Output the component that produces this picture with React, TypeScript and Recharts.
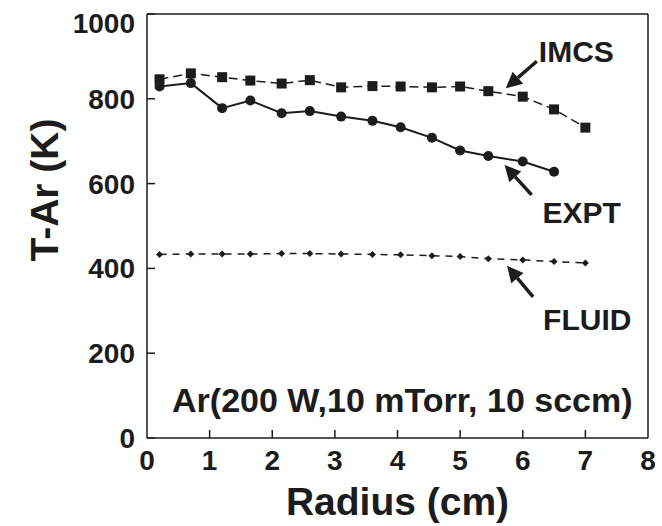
import { LineChart, Line, XAxis, YAxis, ReferenceLine, ReferenceDot } from "recharts";

const radius = [0.2, 0.7, 1.2, 1.65, 2.15, 2.6, 3.1, 3.6, 4.05, 4.55, 5.0, 5.45, 6.0, 6.5, 7.0];
const imcs = [846, 860, 851, 843, 836, 844, 827, 830, 829, 827, 829, 818, 805, 775, 732];
const expt = [829, 837, 778, 796, 766, 771, 758, 748, 733, 708, 678, 665, 652, 628];
const fluid = [433, 434, 434, 434, 435, 435, 434, 433, 432, 430, 428, 423, 420, 416, 413];

const xTicks = [0, 1, 2, 3, 4, 5, 6, 7, 8];
const yTicks = [0, 200, 400, 600, 800, 1000];

const data = radius.map((r, i) => ({ r, imcs: imcs[i], expt: expt[i], fluid: fluid[i] }));

const FONT = "'Liberation Sans', Arial, Helvetica, sans-serif";
const INK = "#1c1c1c";

const YTick = (p: any) => {
  const { x, y, payload } = p;
  const shift = payload.value === 1000 ? 9 : 0;
  return (
    <g>
      <line x1={x} y1={y} x2={x + 8} y2={y} stroke={INK} strokeWidth={1.5} />
      <text x={x - 12} y={y + shift} dy="0.36em" textAnchor="end" fontFamily={FONT} fontWeight="bold" fontSize={28} fill={INK}>
        {payload.value}
      </text>
    </g>
  );
};

const XTick = (p: any) => {
  const { x, y, payload } = p;
  return (
    <g>
      {payload.value > 0 && payload.value < 8 && (
        <line x1={x} y1={y} x2={x} y2={y - 8} stroke={INK} strokeWidth={1.5} />
      )}
      <text x={x} y={y + 32} textAnchor="middle" fontFamily={FONT} fontWeight="bold" fontSize={28} fill={INK}>
        {payload.value}
      </text>
    </g>
  );
};

const Square = (p: any) => {
  const { cx, cy, index } = p;
  if (cx == null || cy == null) return <g key={`s${index}`} />;
  return <rect key={`s${index}`} x={cx - 5} y={cy - 5} width={10} height={10} fill={INK} />;
};

const Circle = (p: any) => {
  const { cx, cy, index } = p;
  if (cx == null || cy == null) return <g key={`c${index}`} />;
  return <circle key={`c${index}`} cx={cx} cy={cy} r={5} fill={INK} />;
};

const Diamond = (p: any) => {
  const { cx, cy, index } = p;
  if (cx == null || cy == null) return <g key={`d${index}`} />;
  return (
    <polygon key={`d${index}`} points={`${cx},${cy - 3.5} ${cx + 3.5},${cy} ${cx},${cy + 3.5} ${cx - 3.5},${cy}`} fill={INK} />
  );
};

const arrowNote = (label: string, tx: number, ty: number, lx: number, ly: number) => (p: any) => {
  const { cx, cy } = p;
  const ang = Math.atan2(ty, tx);
  const len = 16;
  const half = 8;
  const bx = cx + Math.cos(ang) * len;
  const by = cy + Math.sin(ang) * len;
  const nx = -Math.sin(ang) * half;
  const ny = Math.cos(ang) * half;
  return (
    <g>
      <line x1={bx} y1={by} x2={cx + tx} y2={cy + ty} stroke={INK} strokeWidth={3.5} />
      <polygon points={`${cx},${cy} ${bx + nx},${by + ny} ${bx - nx},${by - ny}`} fill={INK} />
      <text x={cx + lx} y={cy + ly} fontFamily={FONT} fontWeight="bold" fontSize={30} fill={INK}>
        {label}
      </text>
    </g>
  );
};

const condText = (p: any) => (
  <text x={p.cx} y={p.cy} fontFamily={FONT} fontWeight="bold" fontSize={34} fill={INK}>
    Ar(200 W,10 mTorr, 10 sccm)
  </text>
);

export default function App() {
  return (
    <div style={{ position: "absolute", left: 0, top: 0, width: 662, height: 526, background: "#fff" }}>
      <LineChart width={662} height={526} data={data} margin={{ top: 14, right: 14, bottom: 48, left: 87 }}>
        <XAxis
          dataKey="r"
          type="number"
          domain={[0, 8]}
          ticks={xTicks}
          interval={0}
          tickSize={0}
          tickMargin={0}
          tick={<XTick />}
          axisLine={{ stroke: INK, strokeWidth: 1.5 }}
          tickLine={false}
          height={40}
          label={{
            content: ({ viewBox }: any) => (
              <text x={viewBox.x + viewBox.width / 2} y={515} textAnchor="middle" fontFamily={FONT} fontWeight="bold" fontSize={39} fill={INK}>
                Radius (cm)
              </text>
            ),
          }}
        />
        <YAxis
          type="number"
          domain={[0, 1000]}
          ticks={yTicks}
          interval={0}
          tickSize={0}
          tickMargin={0}
          tick={<YTick />}
          axisLine={{ stroke: INK, strokeWidth: 1.5 }}
          tickLine={false}
          width={60}
          label={{
            content: () => (
              <text x={44} y={190} transform="rotate(-90 44 190)" dy="0.36em" textAnchor="middle" fontFamily={FONT} fontWeight="bold" fontSize={39} fill={INK}>
                T-Ar (K)
              </text>
            ),
          }}
        />
        <ReferenceLine y={1000} stroke={INK} strokeWidth={1.5} />
        <ReferenceLine x={8} stroke={INK} strokeWidth={1.5} />

        <Line dataKey="imcs" stroke={INK} strokeWidth={1.5} strokeDasharray="9 5" dot={Square} activeDot={false} isAnimationActive={false} />
        <Line dataKey="expt" stroke={INK} strokeWidth={2} dot={Circle} activeDot={false} isAnimationActive={false} />
        <Line dataKey="fluid" stroke={INK} strokeWidth={1.5} strokeDasharray="7 6" dot={Diamond} activeDot={false} isAnimationActive={false} />

        <ReferenceDot x={5.73} y={825} r={0} shape={arrowNote("IMCS", 31, -27, 33, -26)} />
        <ReferenceDot x={5.71} y={644} r={0} shape={arrowNote("EXPT", 27, 30, 38, 58)} />
        <ReferenceDot x={5.75} y={406} r={0} shape={arrowNote("FLUID", 26, 31, 36, 64)} />
        <ReferenceDot x={0.4} y={61} r={0} shape={condText} />
      </LineChart>
    </div>
  );
}
